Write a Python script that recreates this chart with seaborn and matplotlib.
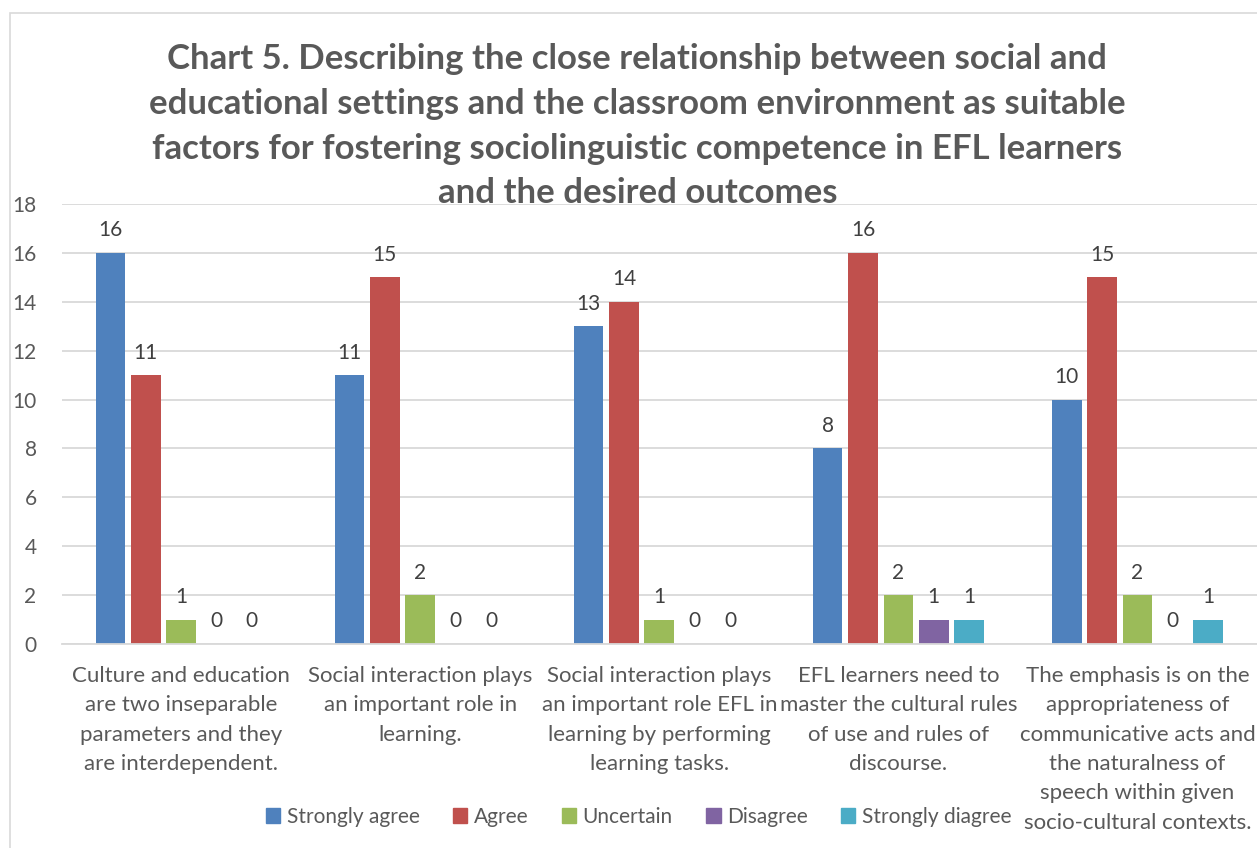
import matplotlib
matplotlib.use("Agg")
import matplotlib.pyplot as plt
from matplotlib.patches import Rectangle
import seaborn as sns
import pandas as pd

categories = [
    "Culture and education\nare two inseparable\nparameters and they\nare interdependent.",
    "Social interaction plays\nan important role in\nlearning.",
    "Social interaction plays\nan important role EFL in\nlearning by performing\nlearning tasks.",
    "EFL learners need to\nmaster the cultural rules\nof use and rules of\ndiscourse.",
    "The emphasis is on the\nappropriateness of\ncommunicative acts and\nthe naturalness of\nspeech within given\nsocio-cultural contexts.",
]
responses = ["Strongly agree", "Agree", "Uncertain", "Disagree", "Strongly diagree"]
strongly_agree = [16, 11, 13, 8, 10]
agree = [11, 15, 14, 16, 15]
uncertain = [1, 2, 1, 2, 2]
disagree = [0, 0, 0, 1, 0]
strongly_disagree = [0, 0, 0, 1, 1]
colors = ["#4F81BD", "#C0504D", "#9BBB59", "#8064A2", "#4BACC6"]

title = ("Chart 5. Describing the close relationship between social and\n"
         "educational settings and the classroom environment as suitable\n"
         "factors for fostering sociolinguistic competence in EFL learners\n"
         "and the desired outcomes")

series = [strongly_agree, agree, uncertain, disagree, strongly_disagree]
rows = []
for name, vals in zip(responses, series):
    for cat, v in zip(categories, vals):
        rows.append({"category": cat, "response": name, "value": v})
df = pd.DataFrame(rows)

sns.set_style("white")
plt.rcParams["font.family"] = ["Lato", "DejaVu Sans"]

fig = plt.figure(figsize=(12.57, 8.48), dpi=100)
ax = fig.add_axes([0.049, 0.2406, 0.951, 0.5188])

sns.barplot(data=df, x="category", y="value", hue="response", order=categories,
            hue_order=responses, palette=colors, saturation=1, width=0.74, gap=0.16,
            linewidth=0, ax=ax)

for cont in ax.containers:
    ax.bar_label(cont, fmt="%d", padding=9, fontsize=15, color="#404040")

ax.set_ylim(0, 18)
ax.set_xlim(-0.5, 4.5)
ax.set_yticks(range(0, 19, 2))
ax.yaxis.grid(True, color="#D9D9D9", linewidth=1.3)
ax.set_axisbelow(True)
for s in ["top", "right", "left"]:
    ax.spines[s].set_visible(False)
ax.spines["bottom"].set_color("#D9D9D9")
ax.spines["bottom"].set_linewidth(1.3)
ax.tick_params(axis="y", length=0, labelsize=15, labelcolor="#595959", pad=18)
ax.tick_params(axis="x", length=0, labelsize=16, labelcolor="#595959", pad=16)
for lab in ax.get_xticklabels():
    lab.set_linespacing(1.58)
ax.set_xlabel("")
ax.set_ylabel("")

ax.legend_.remove()
handles = [Rectangle((0, 0), 1, 1, color=c) for c in colors]
fig.legend(handles, responses, loc="center", bbox_to_anchor=(0.508, 0.037), ncol=5,
           frameon=False, fontsize=15, labelcolor="#595959", handlelength=0.7,
           handleheight=0.7, handletextpad=0.3, columnspacing=1.6)

fig.text(0.507, 0.851, title, ha="center", va="center", fontsize=25,
         fontweight="bold", color="#595959", linespacing=1.49)

fig.add_artist(Rectangle((0.008, -0.1), 1.2, 1.0847, transform=fig.transFigure,
                         fill=False, edgecolor="#D9D9D9", linewidth=1.2))

fig.savefig("out.png", dpi=100)
